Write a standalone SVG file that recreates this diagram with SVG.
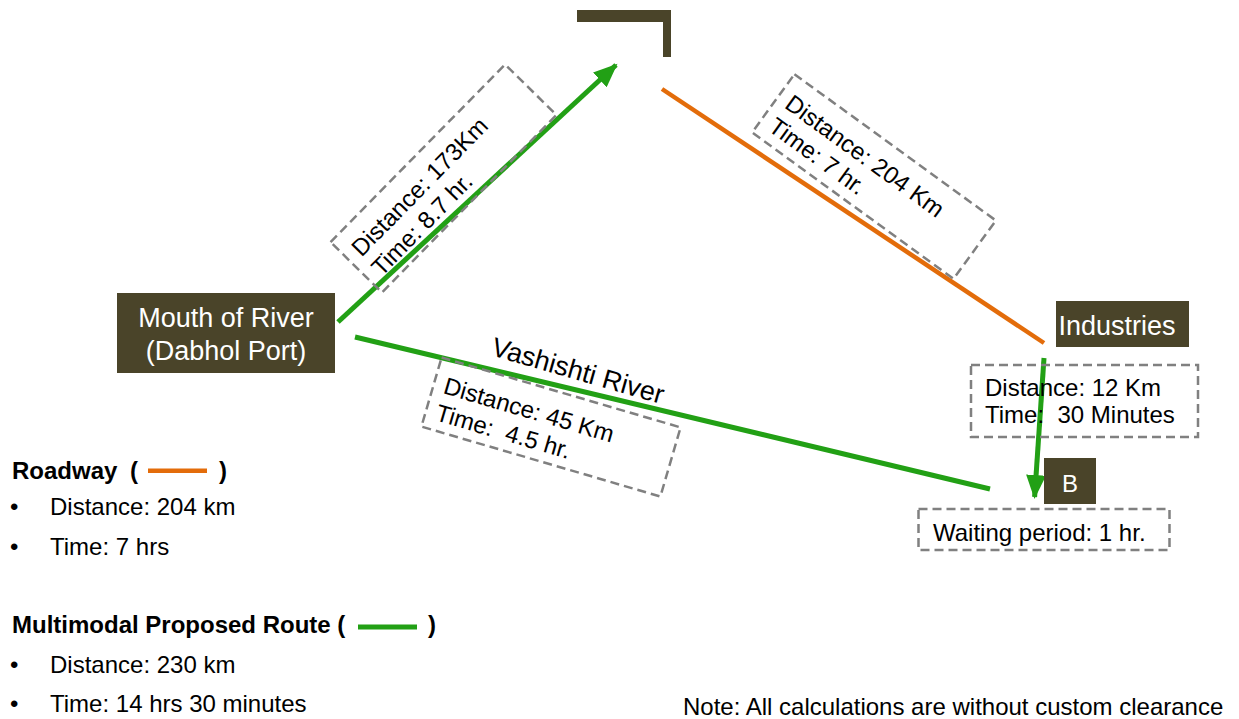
<svg xmlns="http://www.w3.org/2000/svg" width="1239" height="719" viewBox="0 0 1239 719">
<style>
.node{fill:#4A4429}
.nt{fill:#fff;font-family:"Liberation Sans",Arial,sans-serif;font-size:27px}
.t{fill:#000;font-family:"Liberation Sans",Arial,sans-serif;font-size:24px;white-space:pre}
.b{fill:#000;font-family:"Liberation Sans",Arial,sans-serif;font-size:24px;font-weight:bold}
.box{fill:#fff;fill-opacity:0;stroke:#808080;stroke-width:2.5;stroke-dasharray:9 5}
.g{stroke:#22A015;stroke-width:5;fill:none}
.o{stroke:#E36C0A;stroke-width:4.5;fill:none}
</style>
<defs>
<marker id="ah" markerUnits="userSpaceOnUse" markerWidth="26" markerHeight="20" refX="22" refY="10" orient="auto">
<path d="M0,0 L24,10 L0,20 z" fill="#22A015"/>
</marker>
</defs>
<rect width="1239" height="719" fill="#fff"/>

<g id="connectors">
<line class="o" x1="662" y1="89" x2="1044" y2="343"/>
<line class="g" x1="338" y1="322" x2="616" y2="65" marker-end="url(#ah)"/>
<line class="g" x1="355" y1="337" x2="990" y2="489"/>
<line class="g" x1="1044" y1="358" x2="1034.6" y2="497" marker-end="url(#ah)"/>
</g>

<g id="node-top">
<path class="node" d="M577,10 H671 V57 H663 V22 H577 Z"/>
</g>

<g id="node-mouth">
<rect class="node" x="117" y="293" width="218" height="80"/>
<text class="nt" x="226" y="327" text-anchor="middle">Mouth of River</text>
<text class="nt" x="226" y="360" text-anchor="middle">(Dabhol Port)</text>
</g>

<g id="node-industries">
<rect class="node" x="1056" y="301" width="133" height="46"/>
<text class="nt" x="1117" y="335" text-anchor="middle" font-size="26">Industries</text>
</g>

<g id="node-b">
<rect class="node" x="1044" y="458" width="52" height="46"/>
<text class="nt" x="1070" y="492" text-anchor="middle" style="font-size:24px">B</text>
</g>

<g id="label-173" transform="translate(443.5,178.5) rotate(-45.5)">
<rect class="box" x="-124.5" y="-36" width="249" height="72"/>
<text class="t" x="-114" y="-3">Distance: 173Km</text>
<text class="t" x="-114" y="25">Time: 8.7 hr.</text>
</g>

<g id="label-204" transform="translate(874,176.5) rotate(36)">
<rect class="box" x="-124.5" y="-36" width="249" height="72"/>
<text class="t" x="-114" y="-3">Distance: 204 Km</text>
<text class="t" x="-114" y="25">Time: 7 hr.</text>
</g>

<g id="label-45" transform="translate(551,427) rotate(16.3)">
<rect class="box" x="-124.5" y="-36" width="249" height="72"/>
<text class="t" x="-114" y="-2">Distance: 45 Km</text>
<text class="t" x="-114" y="26">Time:  4.5 hr.</text>
</g>

<g id="label-river">
<text class="t" transform="translate(490,355) rotate(16)" style="font-size:27px">Vashishti River</text>
</g>

<g id="label-12">
<rect class="box" x="971" y="365" width="227" height="72"/>
<text class="t" x="985" y="396">Distance: 12 Km</text>
<text class="t" x="985" y="423">Time:  30 Minutes</text>
</g>

<g id="label-wait">
<rect class="box" x="918.5" y="509" width="251" height="41"/>
<text class="t" x="933" y="541">Waiting period: 1 hr.</text>
</g>

<g id="legend">
<text class="b" x="12" y="479">Roadway</text>
<text class="b" x="130" y="479">(</text>
<line class="o" x1="148" y1="470.7" x2="207" y2="470.7"/>
<text class="b" x="219" y="479">)</text>
<text class="t" x="10" y="515">•</text>
<text class="t" x="50" y="515">Distance: 204 km</text>
<text class="t" x="10" y="555">•</text>
<text class="t" x="50" y="555">Time: 7 hrs</text>
<text class="b" x="12" y="633">Multimodal Proposed Route (</text>
<line class="g" x1="358" y1="627" x2="417" y2="627"/>
<text class="b" x="428" y="633">)</text>
<text class="t" x="10" y="673">•</text>
<text class="t" x="50" y="673">Distance: 230 km</text>
<text class="t" x="10" y="712">•</text>
<text class="t" x="50" y="712">Time: 14 hrs 30 minutes</text>
</g>

<text class="t" x="683" y="715">Note: All calculations are without custom clearance</text>
</svg>
